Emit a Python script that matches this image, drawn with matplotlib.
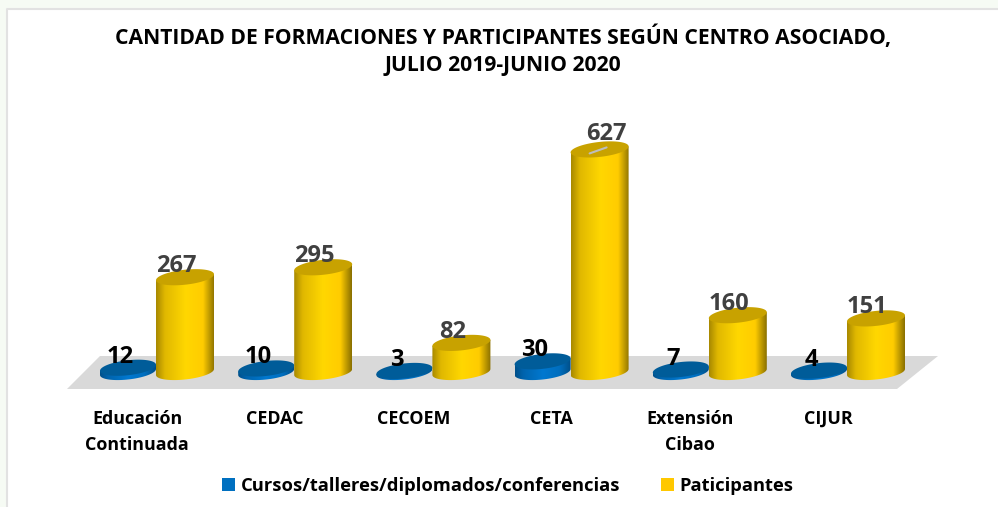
import matplotlib
matplotlib.use("Agg")
import matplotlib.pyplot as plt
from matplotlib.patches import Polygon, Patch, Rectangle
from matplotlib.lines import Line2D
import numpy as np

plt.rcParams["font.family"] = ["Open Sans", "DejaVu Sans"]

# datos
centros = ["Educación\nContinuada", "CEDAC", "CECOEM", "CETA", "Extensión\nCibao", "CIJUR"]
cursos = [12, 10, 3, 30, 7, 4]
participantes = [267, 295, 82, 627, 160, 151]
nombres_series = ["Cursos/talleres/diplomados/conferencias", "Paticipantes"]

W, H = 998, 507
PX_CAT = 138.2       # pixeles entre categorias
PX_VAL = 0.355       # pixeles por unidad
BASE_Y = 372         # pixel de la base
X0 = 137             # pixel de la primera categoria

fig = plt.figure(figsize=(W / 100, H / 100), dpi=100)
fig.patch.set_facecolor("white")

# franja clara y borde gris arriba e izquierda
fig.add_artist(Rectangle((0, 1 - 8 / H), 1, 8 / H, transform=fig.transFigure, fc="#F6FBF4", ec="none"))
fig.add_artist(Rectangle((0, 0), 6 / W, 1, transform=fig.transFigure, fc="#F6FBF4", ec="none"))
fig.add_artist(Line2D([6.5 / W, 6.5 / W, 1], [0, 1 - 8.5 / H, 1 - 8.5 / H], transform=fig.transFigure,
                      color="#E2E2E2", lw=1.5))

# ejes: abajo en el valor 0, arriba a 640
alto = 640 * PX_VAL
ax = fig.add_axes([0, (H - BASE_Y) / H, 1, alto / H])
ax.set_xlim(-X0 / PX_CAT, (W - X0) / PX_CAT)
ax.set_ylim(0, 640)
for s in ax.spines.values():
    s.set_visible(False)
ax.patch.set_visible(False)
ax.set_yticks([])
ax.set_xticks(range(len(centros)))
ax.set_xticklabels(centros, fontsize=12.9, fontweight="bold", color="black", linespacing=1.6)
ax.tick_params(axis="x", length=0, pad=27)


def px_x(p):
    return p / PX_CAT


def px_y(p):
    return p / PX_VAL


def cilindro(x, valor, medio_ancho, colores, tapa, zorder):
    a = px_x(medio_ancho)
    b = px_y(7.5)
    sesgo = px_y(3)
    t = np.linspace(0, np.pi, 40)
    # frente de abajo y vuelta por arriba
    xs = np.r_[x + a * np.cos(t), x + a * np.cos(t[::-1])]
    ys = np.r_[-b * np.sin(t) + sesgo * np.cos(t), valor + sesgo * np.cos(t[::-1])]
    cuerpo = Polygon(np.c_[xs, ys], closed=True, fc="none", ec="none", clip_on=False)
    ax.add_patch(cuerpo)
    grad = np.linspace(0, 1, 128)
    pos = np.array([0, 0.15, 0.5, 0.8, 1])
    rgb = np.array([matplotlib.colors.to_rgb(c) for c in colores])
    img = np.stack([np.interp(grad, pos, rgb[:, i]) for i in range(3)], axis=1)[None, :, :]
    im = ax.imshow(img, extent=[x - a, x + a, -2 * b, valor + 2 * b], aspect="auto", zorder=zorder)
    im.set_clip_path(cuerpo)
    im.set_clip_box(fig.bbox)
    # tapa
    u = np.linspace(0, 2 * np.pi, 80)
    ax.add_patch(Polygon(np.c_[x + a * np.cos(u), valor + b * np.sin(u) + sesgo * np.cos(u)],
                         closed=True, fc=tapa, ec="none", zorder=zorder + 0.1, clip_on=False))


amarillo = ["#A88900", "#E0B800", "#FFD700", "#FFCC00", "#8A7000"]
azul = ["#00508A", "#0064AE", "#0078D0", "#006EBE", "#004F88"]
off_azul, off_amar = -9, 48

# piso gris
ax.add_patch(Polygon([(px_x(67 - X0), px_y(BASE_Y - 389)), (px_x(897 - X0), px_y(BASE_Y - 389)),
                      (px_x(938 - X0), px_y(BASE_Y - 356)), (px_x(100 - X0), px_y(BASE_Y - 356))],
                     closed=True, fc="#D9D9D9", ec="none", zorder=0, clip_on=False))

for i in range(len(centros)):
    cilindro(i + px_x(off_azul), cursos[i], 28, azul, "#005C99", 2)
    cilindro(i + px_x(off_amar), participantes[i], 29, amarillo, "#C8A200", 3)
    ax.annotate(str(cursos[i]), (i + px_x(off_azul), cursos[i]), xytext=(-8, -1), textcoords="offset pixels",
                ha="center", va="bottom", fontsize=17, fontweight="bold", color="black", zorder=6,
                annotation_clip=False)
    # la etiqueta de CETA va corrida, con linea guia
    dx, dy = (7, 3) if participantes[i] == max(participantes) else (-9, -1)
    ax.annotate(str(participantes[i]), (i + px_x(off_amar), participantes[i]), xytext=(dx, dy),
                textcoords="offset pixels", ha="center", va="bottom", fontsize=17, fontweight="bold",
                color="#404040", zorder=6, annotation_clip=False)

# linea guia de la etiqueta mayor
ax.annotate("", (3 + px_x(off_amar - 10), 627 - px_y(4)), xytext=(17, 6), textcoords="offset pixels",
            arrowprops=dict(arrowstyle="-", color="#BDBDBD", lw=1.5, shrinkA=0, shrinkB=0), zorder=6)

fig.text(503 / W, 1 - 37 / H, "CANTIDAD DE FORMACIONES Y PARTICIPANTES SEGÚN CENTRO ASOCIADO,",
         ha="center", va="center", fontsize=15.25, fontweight="bold", color="black")
fig.text(503 / W, 1 - 66 / H, "JULIO 2019-JUNIO 2020",
         ha="center", va="center", fontsize=15.25, fontweight="bold", color="black")

handles = [Patch(fc="#0070C0", ec="none"), Patch(fc="#FFC800", ec="none")]
leg = fig.legend(handles, nombres_series, loc="center", bbox_to_anchor=(508 / W, 1 - 486 / H), ncol=2,
                 frameon=False, handlelength=0.7, handleheight=0.7, handletextpad=0.3, columnspacing=2.25,
                 prop=dict(size=13.2, weight="bold"))

fig.savefig("out.png", dpi=100)
